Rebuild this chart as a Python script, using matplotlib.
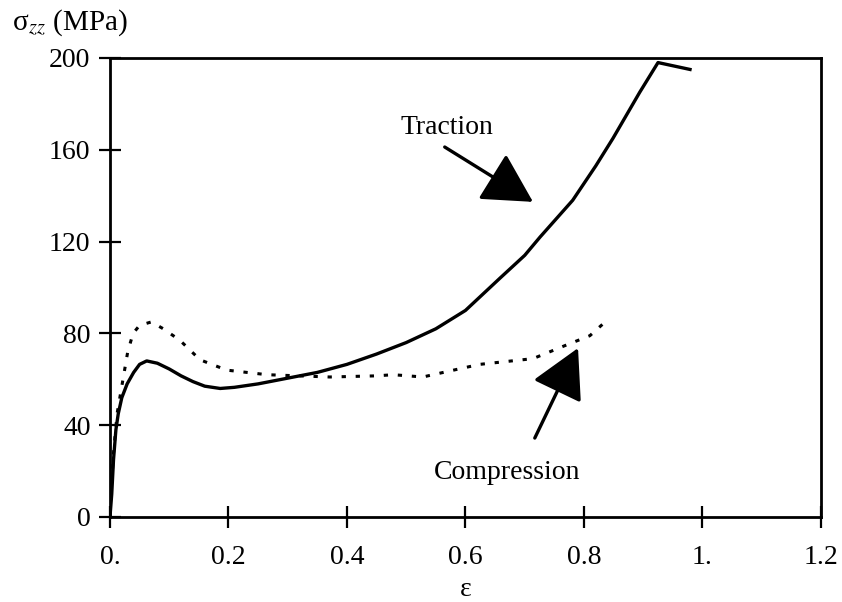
import matplotlib
matplotlib.use("Agg")
import matplotlib.pyplot as plt

plt.rcParams['font.family'] = ['Liberation Serif', 'DejaVu Serif']
plt.rcParams['mathtext.fontset'] = 'stix'

# strain / stress readings, traction test
trac_eps = [0.0, 0.003, 0.006, 0.010, 0.014, 0.020, 0.029, 0.040, 0.050, 0.062,
            0.080, 0.100, 0.120, 0.140, 0.160, 0.186, 0.210, 0.250, 0.300, 0.350,
            0.400, 0.450, 0.500, 0.550, 0.600, 0.658, 0.700, 0.726, 0.781, 0.820,
            0.849, 0.894, 0.925, 0.979]
trac_sig = [0.0, 10.0, 25.0, 38.0, 45.0, 52.0, 58.0, 63.0, 66.5, 68.0,
            67.0, 64.5, 61.5, 59.0, 57.0, 56.0, 56.5, 58.0, 60.5, 63.0,
            66.5, 71.0, 76.0, 82.0, 90.0, 104.0, 114.0, 122.0, 138.0, 153.0,
            165.0, 185.0, 198.0, 195.0]

# compression test
comp_eps = [0.003, 0.006, 0.012, 0.022, 0.030, 0.039, 0.050, 0.070, 0.090, 0.118,
            0.152, 0.197, 0.265, 0.371, 0.450, 0.478, 0.528, 0.580, 0.624, 0.714,
            0.771, 0.810, 0.838]
comp_sig = [15.0, 28.0, 45.0, 60.0, 72.0, 80.0, 83.5, 85.0, 82.0, 77.0,
            68.5, 64.0, 62.0, 61.0, 61.5, 62.0, 61.0, 64.0, 66.5, 69.0,
            75.0, 79.0, 85.5]

xticks = [0.0, 0.2, 0.4, 0.6, 0.8, 1.0, 1.2]
xtick_labels = ['0.', '0.2', '0.4', '0.6', '0.8', '1.', '1.2']
yticks = [0, 40, 80, 120, 160, 200]

fig = plt.figure(figsize=(8.42, 6.02), dpi=100)
ax = fig.add_axes([0.1306, 0.1412, 0.8444, 0.7625])

ax.plot(trac_eps, trac_sig, color='black', lw=2.4, solid_joinstyle='round')
ax.plot(comp_eps, comp_sig, color='black', lw=2.2, linestyle=(0, (1.4, 3.2)))

ax.set_xlim(0, 1.2)
ax.set_ylim(0, 200)
ax.set_xticks(xticks)
ax.set_xticklabels(xtick_labels)
ax.set_yticks(yticks)
ax.tick_params(axis='both', direction='inout', length=16, width=1.6,
               labelsize=20, colors='black')
ax.tick_params(axis='x', pad=12)
ax.tick_params(axis='y', pad=6)
for s in ax.spines.values():
    s.set_linewidth(2.0)

ax.set_xlabel('ε', fontsize=20, labelpad=5)
fig.text(0.014, 0.962, 'σ$_{zz}$ (MPa)', fontsize=21, va='center', ha='left')

# labels and their arrows
head = '-|>,head_length=2.2,head_width=1.2'
ax.text(0.569, 169.5, 'Traction', fontsize=20, ha='center', va='center')
ax.annotate('', xy=(0.714, 137.3), xytext=(0.565, 161.2),
            arrowprops=dict(arrowstyle=head, color='black', lw=2.4,
                            mutation_scale=14, shrinkA=0, shrinkB=0))
ax.text(0.67, 19.2, 'Compression', fontsize=20, ha='center', va='center')
ax.annotate('', xy=(0.79, 73.6), xytext=(0.717, 34.4),
            arrowprops=dict(arrowstyle=head, color='black', lw=2.4,
                            mutation_scale=14, shrinkA=0, shrinkB=0))

fig.savefig('out.png', dpi=100)
